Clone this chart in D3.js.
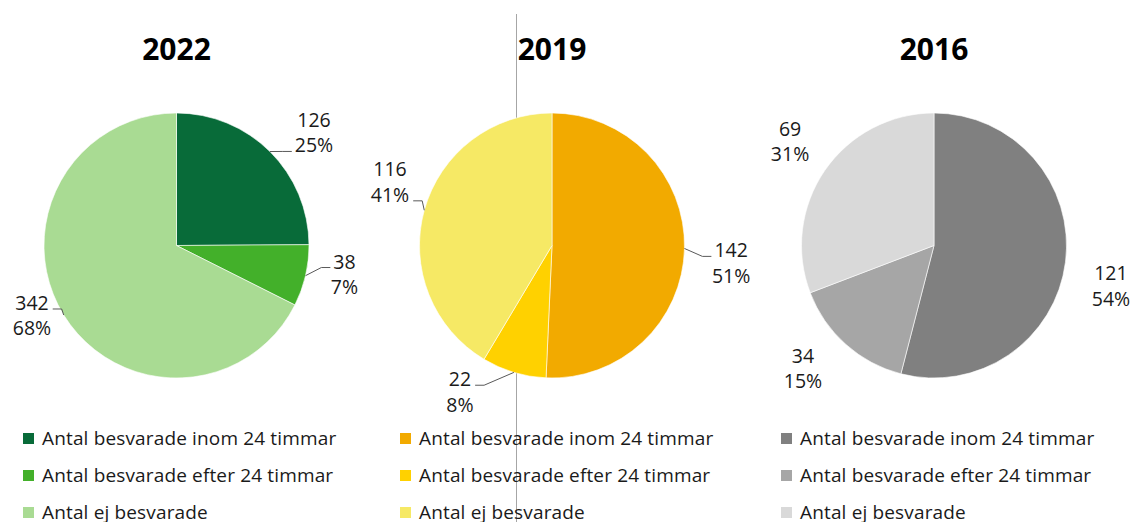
<!DOCTYPE html>
<html>
<head>
<meta charset="utf-8">
<script src="https://cdn.jsdelivr.net/npm/d3@7"></script>
<style>
  html, body { margin: 0; padding: 0; background: #fff; }
  svg { display: block; }
  text { font-family: "Open Sans", "Noto Sans", sans-serif; }
</style>
</head>
<body>
<svg id="chart" width="1134" height="522"></svg>
<script>
// ---- Data ----
const categories = ["Antal besvarade inom 24 timmar", "Antal besvarade efter 24 timmar", "Antal ej besvarade"];
const years = ["2022", "2019", "2016"];
const values2022 = [126, 38, 342];
const values2019 = [142, 22, 116];
const values2016 = [121, 34, 69];
const percent2022 = [25, 7, 68];
const percent2019 = [51, 8, 41];
const percent2016 = [54, 15, 31];

// ---- Styles / layout ----
const colors2022 = ["#086b39", "#43b02a", "#a9db93"];
const colors2019 = ["#f2aa00", "#ffd100", "#f6e965"];
const colors2016 = ["#808080", "#a6a6a6", "#d9d9d9"];

const W = 1134, H = 522;
const pieCX = [176.5, 552, 934];
const pieCY = 245.5;
const pieR = 132.5;
const titleY = 60;
// label placement: [angle from 12 o'clock in degrees, distance from centre]
const labelPlace = [
  [[50.7, 177.7], [99.8, 170.5], [244, 160.8]],
  [[95.7, 180], [212.1, 173.2], [291.3, 173.9]],
  [[103, 181.6], [226.8, 179.7], [305.8, 177.5]]
];
// leader line: which text line it attaches to (0 = none)
const leaderLine = [
  [2, 1, 1],
  [1, 1, 2],
  [0, 0, 0]
];
const legendX = [23, 400, 781];
const legendY = [433, 470, 507];

const svg = d3.select("#chart");

// thin vertical grey line
svg.append("line")
  .attr("x1", 516.5).attr("x2", 516.5)
  .attr("y1", 14).attr("y2", H)
  .attr("stroke", "#a6a6a6").attr("stroke-width", 1);

const datasets = [
  { year: years[0], values: values2022, pct: percent2022, colors: colors2022 },
  { year: years[1], values: values2019, pct: percent2019, colors: colors2019 },
  { year: years[2], values: values2016, pct: percent2016, colors: colors2016 }
];

const pie = d3.pie().sort(null).value(d => d);
const arc = d3.arc().innerRadius(0).outerRadius(pieR);
const rad = deg => deg * Math.PI / 180;

datasets.forEach((ds, i) => {
  const cx = pieCX[i];
  const g = svg.append("g").attr("transform", `translate(${cx},${pieCY})`);
  const arcs = pie(ds.values);
  const color = d3.scaleOrdinal().domain(d3.range(categories.length)).range(ds.colors);

  g.selectAll("path.slice")
    .data(arcs)
    .join("path")
    .attr("class", "slice")
    .attr("d", arc)
    .attr("fill", (d, j) => color(j))
    .attr("stroke", "#ffffff")
    .attr("stroke-width", 0.6);

  // title
  svg.append("text")
    .attr("x", cx).attr("y", titleY)
    .attr("text-anchor", "middle")
    .attr("font-size", 30).attr("font-weight", 700)
    .attr("fill", "#000")
    .text(ds.year);

  // labels
  arcs.forEach((a, j) => {
    const [angDeg, dist] = labelPlace[i][j];
    const ax = Math.sin(rad(angDeg)) * dist;
    const ay = -Math.cos(rad(angDeg)) * dist;
    const t = g.append("text")
      .attr("text-anchor", "middle")
      .attr("font-size", 19.5)
      .attr("fill", "#1a1a1a");
    const t1 = t.append("tspan").attr("x", ax).attr("y", ay - 6).text(ds.values[j]);
    const t2 = t.append("tspan").attr("x", ax).attr("y", ay + 19.5).text(ds.pct[j] + "%");

    const li = leaderLine[i][j];
    if (li) {
      const span = li === 1 ? t1 : t2;
      const bb = span.node().getBBox();
      const baseY = li === 1 ? ay - 6 : ay + 19.5;
      const mid = (a.startAngle + a.endAngle) / 2;
      const sx = Math.sin(mid) * pieR, sy = -Math.cos(mid) * pieR;
      const right = ax > 0;
      const ex = right ? bb.x - 3 : bb.x + bb.width + 4;
      const ey = baseY - 1;
      const elx = right ? ex - 9 : ex + 9;
      g.append("polyline")
        .attr("points", [[sx, sy], [elx, ey], [ex, ey]].map(p => p.join(",")).join(" "))
        .attr("fill", "none")
        .attr("stroke", "#595959")
        .attr("stroke-width", 1);
    }
  });

  // legend
  const lg = svg.append("g");
  categories.forEach((c, j) => {
    lg.append("rect")
      .attr("x", legendX[i]).attr("y", legendY[j])
      .attr("width", 11).attr("height", 11)
      .attr("fill", color(j));
    lg.append("text")
      .attr("x", legendX[i] + 19).attr("y", legendY[j] + 12)
      .attr("font-size", 19)
      .attr("letter-spacing", 0.15)
      .attr("fill", "#1a1a1a")
      .text(c);
  });
});
</script>
</body>
</html>
